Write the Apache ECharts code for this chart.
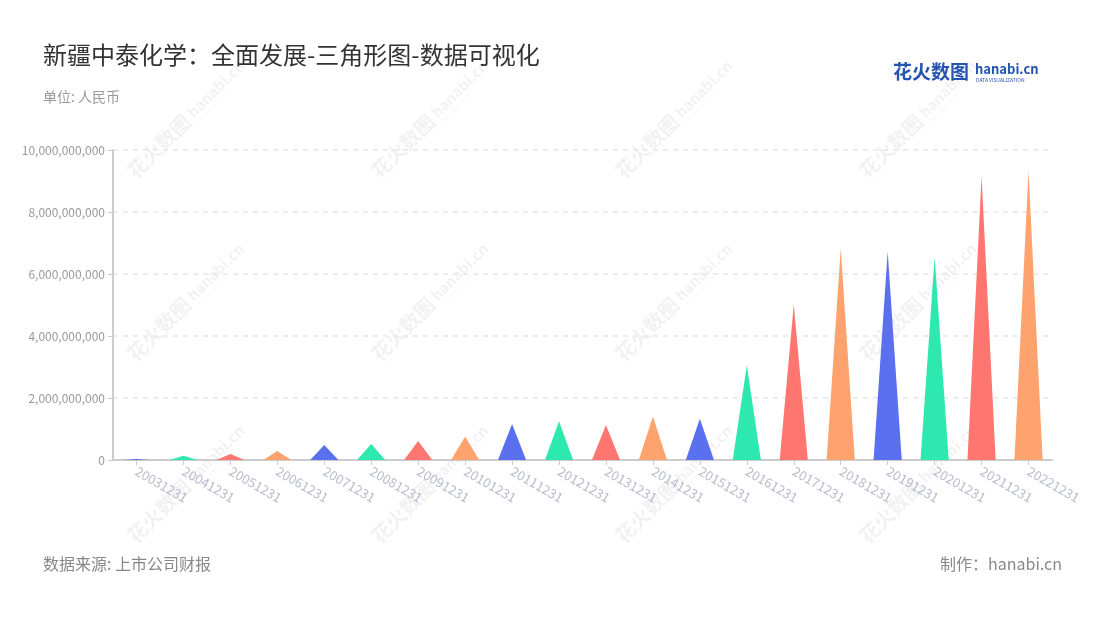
<!DOCTYPE html>
<html>
<head>
<meta charset="utf-8">
<script src="https://cdn.jsdelivr.net/npm/echarts@6/dist/echarts.min.js"></script>
<style>html,body{margin:0;padding:0;background:#fff}#c{width:1100px;height:620px}</style>
</head>
<body>
<div id="c"></div>
<script>
const categories = ['20031231','20041231','20051231','20061231','20071231','20081231','20091231','20101231','20111231','20121231','20131231','20141231','20151231','20161231','20171231','20181231','20191231','20201231','20211231','20221231'];
const values = [30000000,140000000,190000000,290000000,480000000,520000000,610000000,760000000,1160000000,1250000000,1130000000,1400000000,1330000000,3060000000,5020000000,6830000000,6720000000,6560000000,9160000000,9350000000];
const yTicks = [0,2000000000,4000000000,6000000000,8000000000,10000000000];

const palette = ['#5a70ee','#2de8af','#ff7671','#ffa36e'];
const FONT = '"Noto Sans CJK SC","Noto Sans",sans-serif';

const chart = echarts.init(document.getElementById('c'));

function watermark(cx, cy) {
  const c = 'rgba(0,0,0,0.055)';
  return {
    type: 'group', x: cx, y: cy, rotation: Math.PI / 4, silent: true, z: 0,
    children: [
      { type: 'text', x: -72, y: -12, style: { text: '花火数图', font: 'bold 20px ' + FONT, fill: c } },
      { type: 'text', x: 12, y: -10, style: { text: 'hanabi.cn', font: 'bold 15px ' + FONT, fill: c } },
      { type: 'text', x: 14, y: 6, style: { text: 'DATA VISUALIZATION', font: '4px ' + FONT, fill: c } }
    ]
  };
}
const wm = [];
[183, 427, 671, 915].forEach(x => [125, 308, 490].forEach(y => wm.push(watermark(x, y))));

chart.setOption({
  backgroundColor: '#fff',
  animation: false,
  title: [
    { text: '新疆中泰化学：全面发展-三角形图-数据可视化', left: 38, top: 38,
      textStyle: { fontFamily: FONT, fontSize: 24, fontWeight: 'normal', color: '#333' } },
    { text: '单位: 人民币', left: 38, top: 85,
      textStyle: { fontFamily: FONT, fontSize: 14, fontWeight: 'normal', color: '#999' } }
  ],
  graphic: wm.concat([
    { type: 'text', left: 43, top: 556, style: { text: '数据来源: 上市公司财报', font: '16px ' + FONT, fill: '#888' } },
    { type: 'text', right: 38, top: 556, style: { text: '制作：hanabi.cn', font: '16px ' + FONT, fill: '#888' } },
    { type: 'text', left: 893, top: 62, style: { text: '花火数图', font: 'bold 19px ' + FONT, fill: '#2453b0' } },
    { type: 'text', left: 975, top: 63, style: { text: 'hanabi.cn', font: 'bold 13px ' + FONT, fill: '#2453b0' } },
    { type: 'text', left: 976, top: 78, style: { text: 'DATA VISUALIZATION', font: '5px ' + FONT, fill: '#2453b0' } }
  ]),
  grid: { left: 113, right: 48, top: 150, bottom: 160, containLabel: false },
  xAxis: {
    type: 'category', data: categories,
    axisLine: { lineStyle: { color: '#ccc', width: 2 } },
    axisTick: { show: true, alignWithLabel: true, lineStyle: { color: '#ccc' } },
    axisLabel: { rotate: -30, color: '#b8bacb', fontSize: 13, fontFamily: FONT, margin: 10, interval: 0 }
  },
  yAxis: {
    type: 'value', min: yTicks[0], max: yTicks[yTicks.length - 1], interval: yTicks[1] - yTicks[0],
    axisLine: { show: true, lineStyle: { color: '#ccc', width: 2 } },
    axisTick: { show: true, length: 5, lineStyle: { color: '#ccc' } },
    axisLabel: { color: '#999', fontSize: 12, fontFamily: FONT, margin: 8,
      formatter: v => v.toLocaleString('en-US') },
    splitLine: { lineStyle: { color: '#e6e6e6', type: [5, 5], width: 1.5 } }
  },
  series: [{
    type: 'pictorialBar',
    symbol: 'path://M0,10 L10,10 L5,0 Z',
    barCategoryGap: '40%',
    z: 5,
    data: values.map((v, i) => ({ value: v, itemStyle: { color: palette[i % palette.length] } }))
  }]
});
</script>
</body>
</html>
